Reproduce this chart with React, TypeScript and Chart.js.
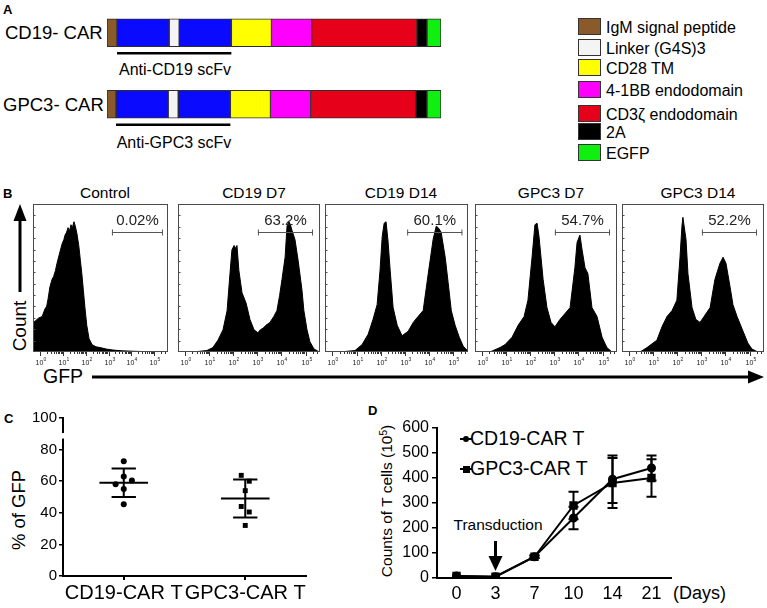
import React, { useEffect, useRef } from 'react';
import { Chart, registerables } from 'chart.js';
Chart.register(...registerables);

const FONT = '"Liberation Sans", Arial, Helvetica, sans-serif';

// ---------------- Panel A data ----------------
const constructNames = ['CD19- CAR', 'GPC3- CAR'];
const scfvLabels = ['Anti-CD19 scFv', 'Anti-GPC3 scFv'];
const segmentColors = ['#8b5a2b', '#0a0aff', '#f4f4f4', '#0a0aff', '#ffff00', '#ff00ff', '#e60019', '#000000', '#10f010'];
const cd19Segments = [10, 52, 10, 52, 40, 40, 105, 10, 14];
const gpc3Segments = [9, 52, 10, 52, 40, 40, 105, 11, 14];
const legendNames = ['IgM signal peptide', 'Linker (G4S)3', 'CD28 TM', '4-1BB endodomain', 'CD3ζ endodomain', '2A', 'EGFP'];
const legendColors = ['#8b5a2b', '#f4f4f4', '#ffff00', '#ff00ff', '#e60019', '#000000', '#10f010'];

// ---------------- Panel B data ----------------
const sampleNames = ['Control', 'CD19 D7', 'CD19 D14', 'GPC3 D7', 'GPC3 D14'];
const gfpPercentLabels = ['0.02%', '63.2%', '60.1%', '54.7%', '52.2%'];
const gateLow = [3.15, 3.02, 3.09, 3.02, 3.02];
const gateHigh = [5.38, 5.31, 5.37, 5.31, 5.31];
const decades = [0, 1, 2, 3, 4, 5];

const controlLog = [-0.3, -0.2, -0.05, 0.1, 0.22, 0.3, 0.36, 0.44, 0.53, 0.6, 0.68, 0.75, 0.85, 0.97, 1.05, 1.1, 1.17, 1.23, 1.3, 1.36, 1.42, 1.49, 1.55, 1.62, 1.7, 1.77, 1.84, 1.9, 1.97, 2.05, 2.15, 2.28, 2.45, 2.63, 2.9, 3.2, 3.6, 4.1, 4.7, 5.2, 5.6];
const controlCount = [20, 21, 23, 24, 29, 31, 36, 44, 49, 51, 55, 60, 66, 73, 76, 79, 81, 84, 82, 86, 84, 88, 85, 80, 72, 62, 52, 42, 30, 18, 9, 5, 3.5, 3, 2, 1.3, 0.8, 0.5, 0.2, 0, 0];
const cd19d7Log = [-0.3, 0.5, 0.9, 1.15, 1.36, 1.57, 1.74, 1.86, 1.94, 2.03, 2.1, 2.15, 2.23, 2.36, 2.53, 2.69, 2.86, 3.02, 3.12, 3.23, 3.35, 3.52, 3.68, 3.81, 3.92, 4.02, 4.15, 4.23, 4.31, 4.37, 4.44, 4.56, 4.69, 4.85, 4.93, 5.06, 5.18, 5.35, 5.52, 5.6];
const cd19d7Count = [0, 0.3, 1, 3, 8, 15, 28, 53, 69, 72, 70, 72, 55, 40, 33, 22, 15, 13, 15, 16, 18, 20, 24, 28, 38, 49, 64, 85, 88, 86, 82, 76, 62, 42, 28, 15, 7, 2, 0.5, 0];
const cd19d14Log = [-0.3, 0.5, 0.94, 1.23, 1.48, 1.68, 1.85, 1.97, 2.06, 2.14, 2.22, 2.3, 2.39, 2.51, 2.68, 2.88, 3.13, 3.34, 3.54, 3.75, 3.96, 4.16, 4.29, 4.37, 4.49, 4.66, 4.78, 4.91, 5.07, 5.24, 5.4, 5.57, 5.6];
const cd19d14Count = [0, 0.3, 1, 5, 12, 22, 32, 55, 78, 87, 88, 75, 55, 30, 18, 11, 14, 20, 24, 28, 53, 76, 85, 84, 81, 64, 47, 28, 18, 10, 4, 1, 0];
const gpc3d7Log = [-0.3, 0.32, 0.74, 0.95, 1.24, 1.49, 1.74, 1.9, 2.07, 2.19, 2.28, 2.36, 2.53, 2.69, 2.86, 3.02, 3.23, 3.44, 3.65, 3.85, 3.94, 4.06, 4.15, 4.27, 4.39, 4.56, 4.77, 4.98, 5.18, 5.39, 5.6];
const gpc3d7Count = [0, 0, 3, 5, 10, 18, 24, 35, 64, 86, 87, 78, 49, 30, 20, 17, 22, 26, 30, 57, 74, 79, 69, 57, 53, 30, 24, 10, 3, 0, 0];
const gpc3d14Log = [-0.3, 0.45, 0.74, 1.15, 1.36, 1.57, 1.78, 1.98, 2.11, 2.19, 2.23, 2.36, 2.44, 2.61, 2.77, 2.94, 3.11, 3.36, 3.56, 3.77, 3.9, 4.02, 4.19, 4.31, 4.48, 4.73, 4.93, 5.1, 5.35, 5.6];
const gpc3d14Count = [0, 0, 3, 8, 17, 24, 28, 35, 64, 85, 91, 76, 53, 30, 22, 20, 24, 30, 49, 60, 64, 60, 44, 32, 24, 14, 6, 2, 0, 0];

const histLogs = [controlLog, cd19d7Log, cd19d14Log, gpc3d7Log, gpc3d14Log];
const histCounts = [controlCount, cd19d7Count, cd19d14Count, gpc3d7Count, gpc3d14Count];

// ---------------- Panel C data ----------------
const groupNames = ['CD19-CAR T', 'GPC3-CAR T'];
const cd19Gfp = [72.6, 63, 60.5, 58, 55, 45.4];
const cd19Jitter = [0, 0, 0.067, -0.067, 0, 0];
const gpc3Gfp = [63.7, 60, 54, 44, 40.5, 32];
const gpc3Jitter = [-0.033, 0.033, 0, -0.033, 0.033, 0];
const groupMean = [59, 49];
const groupSd = [9, 12];

// ---------------- Panel D data ----------------
const days = ['0', '3', '7', '10', '14', '21'];
const cd19Counts = [8, 5, 85, 240, 395, 440];
const cd19CountSd = [0, 0, 5, 45, 95, 50];
const gpc3Counts = [8, 5, 85, 290, 380, 400];
const gpc3CountSd = [0, 0, 5, 55, 100, 75];
const transductionDayIndex = 1;

// ---------------- layout (not data) ----------------
const histLeft = [33, 178, 325, 475, 622];
const histWidth = [135, 142, 143, 142, 142];
const histTop = 204;
const histH = 148;
const titleX = [105, 254, 401, 551, 698];
const legendBoxY = [26, 47, 67, 89, 113, 131, 152];
const barTotal = 333;

function T(props: { x: number; y: number; s: number; a?: 'l' | 'c' | 'r'; b?: boolean; r?: boolean; c?: string; children: React.ReactNode }) {
  const { x, y, s, a = 'l', b, r, c = '#000', children } = props;
  const tx = a === 'l' ? '0' : a === 'c' ? '-50%' : '-100%';
  const transform = r ? 'translate(-50%,-50%) rotate(-90deg)' : `translate(${tx},-50%)`;
  return (
    <div style={{ position: 'absolute', left: x, top: y, fontSize: s, fontWeight: b ? 'bold' : 'normal', lineHeight: 1, whiteSpace: 'nowrap', transform, color: c, fontFamily: FONT }}>
      {children}
    </div>
  );
}

function makeHistPlugin(i: number) {
  return {
    id: 'flowFrame' + i,
    afterDraw(chart: any) {
      const { ctx, chartArea: a, scales } = chart;
      const x = scales.x;
      const y = scales.y;
      ctx.save();
      ctx.strokeStyle = '#4a4a4a';
      ctx.lineWidth = 1;
      ctx.strokeRect(a.left + 0.5, a.top + 0.5, a.right - a.left - 1, a.bottom - a.top - 1);
      for (let k = 1; k < 13; k++) {
        const yy = Math.round(a.top + (k * (a.bottom - a.top)) / 13) + 0.5;
        ctx.beginPath();
        ctx.moveTo(a.left, yy);
        ctx.lineTo(a.left + 2.5, yy);
        ctx.stroke();
      }
      ctx.strokeStyle = '#333';
      decades.forEach((n) => {
        const px = Math.round(x.getPixelForValue(n)) + 0.5;
        ctx.beginPath();
        ctx.moveTo(px, a.bottom);
        ctx.lineTo(px, a.bottom + 4);
        ctx.stroke();
        for (let m = 2; m <= 9; m++) {
          const v = n + Math.log10(m);
          if (v > x.max) break;
          const mx = Math.round(x.getPixelForValue(v)) + 0.5;
          ctx.beginPath();
          ctx.moveTo(mx, a.bottom);
          ctx.lineTo(mx, a.bottom + 2);
          ctx.stroke();
        }
        ctx.fillStyle = '#222';
        ctx.textAlign = 'center';
        ctx.textBaseline = 'middle';
        ctx.font = `7px ${FONT}`;
        ctx.fillText('10', px - 1, a.bottom + 11);
        ctx.font = `5px ${FONT}`;
        ctx.fillText(String(n), px + 4.5, a.bottom + 8);
      });
      const gy = Math.round(y.getPixelForValue(81)) + 0.5;
      const gx1 = x.getPixelForValue(gateLow[i]);
      const gx2 = x.getPixelForValue(gateHigh[i]);
      ctx.strokeStyle = '#555';
      ctx.lineWidth = 1;
      ctx.beginPath();
      ctx.moveTo(gx1, gy);
      ctx.lineTo(gx2, gy);
      ctx.moveTo(gx1 + 0.5, gy - 3);
      ctx.lineTo(gx1 + 0.5, gy + 3);
      ctx.moveTo(gx2 - 0.5, gy - 3);
      ctx.lineTo(gx2 - 0.5, gy + 3);
      ctx.stroke();
      ctx.fillStyle = '#222';
      ctx.font = `15px ${FONT}`;
      ctx.textAlign = 'center';
      ctx.textBaseline = 'middle';
      ctx.fillText(gfpPercentLabels[i], (gx1 + gx2) / 2, gy - 12);
      ctx.restore();
    },
  };
}

export default function App() {
  const aRef = useRef<HTMLCanvasElement>(null);
  const bRefs = useRef<(HTMLCanvasElement | null)[]>([]);
  const cRef = useRef<HTMLCanvasElement>(null);
  const dRef = useRef<HTMLCanvasElement>(null);

  useEffect(() => {
    const charts: Chart[] = [];

    // ---------- Panel A ----------
    const underline = {
      id: 'scfvUnderline',
      afterDatasetsDraw(chart: any) {
        const { ctx, scales } = chart;
        [cd19Segments, gpc3Segments].forEach((segs, i) => {
          const start = segs[0];
          const end = segs[0] + segs[1] + segs[2] + segs[3];
          const yy = scales.y.getPixelForValue(i) + 20.5;
          ctx.save();
          ctx.strokeStyle = '#000';
          ctx.lineWidth = 2.5;
          ctx.beginPath();
          ctx.moveTo(scales.x.getPixelForValue(start), yy);
          ctx.lineTo(scales.x.getPixelForValue(end), yy);
          ctx.stroke();
          ctx.restore();
        });
      },
    };
    charts.push(
      new Chart(aRef.current!, {
        type: 'bar',
        data: {
          labels: constructNames,
          datasets: segmentColors.map((c, i) => ({
            data: [cd19Segments[i], gpc3Segments[i]],
            backgroundColor: c,
            borderColor: '#2e2e2e',
            borderWidth: 1,
            borderSkipped: false,
            barThickness: 28,
            stack: 's',
          })),
        },
        options: {
          indexAxis: 'y',
          animation: false,
          responsive: false,
          events: [],
          layout: { padding: 0 },
          plugins: { legend: { display: false }, tooltip: { enabled: false } },
          scales: {
            x: { stacked: true, display: false, min: 0, max: barTotal },
            y: { stacked: true, display: false },
          },
        },
        plugins: [underline],
      } as any)
    );

    // ---------- Panel B ----------
    histLogs.forEach((xs, i) => {
      const cv = bRefs.current[i];
      if (!cv) return;
      charts.push(
        new Chart(cv, {
          type: 'line',
          data: {
            datasets: [
              {
                data: xs.map((v, k) => ({ x: v, y: histCounts[i][k] })),
                fill: 'origin',
                backgroundColor: '#000',
                borderColor: '#000',
                borderWidth: 1,
                pointRadius: 0,
                tension: 0,
              },
            ],
          },
          options: {
            animation: false,
            responsive: false,
            events: [],
            layout: { padding: { top: 0, left: 0, right: 0, bottom: 22 } },
            plugins: { legend: { display: false }, tooltip: { enabled: false } },
            scales: {
              x: { type: 'linear', min: -0.3, max: 5.6, display: false },
              y: { min: 0, max: 100, display: false },
            },
          },
          plugins: [makeHistPlugin(i)],
        } as any)
      );
    });

    // ---------- Panel C ----------
    const meanSd = {
      id: 'meanSd',
      afterDatasetsDraw(chart: any) {
        const { ctx, scales, chartArea: a } = chart;
        const x = scales.x;
        const y = scales.y;
        ctx.save();
        ctx.strokeStyle = '#000';
        ctx.lineWidth = 2;
        groupMean.forEach((m, g) => {
          const cx = g + 1;
          const ym = y.getPixelForValue(m);
          const yt = y.getPixelForValue(m + groupSd[g]);
          const yb = y.getPixelForValue(m - groupSd[g]);
          ctx.beginPath();
          ctx.moveTo(x.getPixelForValue(cx - 0.2), ym);
          ctx.lineTo(x.getPixelForValue(cx + 0.2), ym);
          ctx.moveTo(x.getPixelForValue(cx), yt);
          ctx.lineTo(x.getPixelForValue(cx), yb);
          ctx.moveTo(x.getPixelForValue(cx - 0.1), yt);
          ctx.lineTo(x.getPixelForValue(cx + 0.1), yt);
          ctx.moveTo(x.getPixelForValue(cx - 0.1), yb);
          ctx.lineTo(x.getPixelForValue(cx + 0.1), yb);
          ctx.stroke();
        });
        ctx.fillStyle = '#fff';
        const b1 = y.getPixelForValue(90.5);
        const b2 = y.getPixelForValue(87);
        ctx.fillRect(a.left - 3, b1, 6, b2 - b1);
        ctx.restore();
      },
    };
    charts.push(
      new Chart(cRef.current!, {
        type: 'scatter',
        data: {
          datasets: [
            {
              data: cd19Gfp.map((v, k) => ({ x: 1 + cd19Jitter[k], y: v })),
              pointStyle: 'circle',
              pointRadius: 3,
              backgroundColor: '#000',
              borderColor: '#000',
              borderWidth: 0,
            },
            {
              data: gpc3Gfp.map((v, k) => ({ x: 2 + gpc3Jitter[k], y: v })),
              pointStyle: 'rect',
              pointRadius: 3.5,
              backgroundColor: '#000',
              borderColor: '#000',
              borderWidth: 0,
            },
          ],
        },
        options: {
          animation: false,
          responsive: false,
          events: [],
          layout: { padding: { top: 18, right: 14, left: 0, bottom: 0 } },
          plugins: { legend: { display: false }, tooltip: { enabled: false } },
          scales: {
            x: {
              type: 'linear',
              min: 0.5,
              max: 2.5,
              afterFit: (s: any) => {
                s.height = 32;
              },
              afterBuildTicks: (s: any) => {
                s.ticks = [{ value: 1 }, { value: 2 }];
              },
              ticks: {
                callback: (v: any) => groupNames[Math.round(v) - 1],
                font: { family: FONT, size: 20 },
                color: '#000',
                padding: 1,
                maxRotation: 0,
                autoSkip: false,
              },
              grid: { drawOnChartArea: false, tickLength: 4, color: '#000', lineWidth: 2 },
              border: { display: true, color: '#000', width: 2 },
            },
            y: {
              min: 0,
              max: 100,
              afterFit: (s: any) => {
                s.width = 63;
              },
              ticks: { stepSize: 20, font: { family: FONT, size: 15 }, color: '#000', padding: 2 },
              grid: { drawOnChartArea: false, tickLength: 4, color: '#000', lineWidth: 1.5 },
              border: { display: true, color: '#000', width: 2 },
            },
          },
        },
        plugins: [meanSd],
      } as any)
    );

    // ---------- Panel D ----------
    const errBars = {
      id: 'errBars',
      afterDatasetsDraw(chart: any) {
        const { ctx, scales, chartArea: a } = chart;
        const x = scales.x;
        const y = scales.y;
        ctx.save();
        ctx.strokeStyle = '#000';
        ctx.lineWidth = 2;
        [
          [cd19Counts, cd19CountSd],
          [gpc3Counts, gpc3CountSd],
        ].forEach(([vals, sds]) => {
          vals.forEach((v, j) => {
            if (!sds[j]) return;
            const px = x.getPixelForValue(j);
            const yt = y.getPixelForValue(v + sds[j]);
            const yb = y.getPixelForValue(v - sds[j]);
            ctx.beginPath();
            ctx.moveTo(px, yt);
            ctx.lineTo(px, yb);
            ctx.moveTo(px - 5, yt);
            ctx.lineTo(px + 5, yt);
            ctx.moveTo(px - 5, yb);
            ctx.lineTo(px + 5, yb);
            ctx.stroke();
          });
        });
        const ax = x.getPixelForValue(transductionDayIndex);
        ctx.lineWidth = 3;
        ctx.beginPath();
        ctx.moveTo(ax, a.bottom - 37);
        ctx.lineTo(ax, a.bottom - 20);
        ctx.stroke();
        ctx.fillStyle = '#000';
        ctx.beginPath();
        ctx.moveTo(ax - 7, a.bottom - 22);
        ctx.lineTo(ax + 7, a.bottom - 22);
        ctx.lineTo(ax, a.bottom - 7);
        ctx.closePath();
        ctx.fill();
        ctx.restore();
      },
    };
    charts.push(
      new Chart(dRef.current!, {
        type: 'line',
        data: {
          labels: days,
          datasets: [
            {
              data: cd19Counts,
              borderColor: '#000',
              backgroundColor: '#000',
              borderWidth: 2,
              pointStyle: 'circle',
              pointRadius: 3.5,
              tension: 0,
            },
            {
              data: gpc3Counts,
              borderColor: '#000',
              backgroundColor: '#000',
              borderWidth: 2,
              pointStyle: 'rect',
              pointRadius: 4.5,
              tension: 0,
            },
          ],
        },
        options: {
          animation: false,
          responsive: false,
          events: [],
          layout: { padding: { top: 28, right: 9, left: 0, bottom: 0 } },
          plugins: { legend: { display: false }, tooltip: { enabled: false } },
          scales: {
            x: {
              type: 'category',
              offset: true,
              afterFit: (s: any) => {
                s.height = 30;
              },
              ticks: { font: { family: FONT, size: 18 }, color: '#000', padding: 1, maxRotation: 0, autoSkip: false },
              grid: { drawOnChartArea: false, tickLength: 4, color: 'rgba(0,0,0,0)', offset: false },
              border: { display: true, color: '#000', width: 2 },
            },
            y: {
              min: 0,
              max: 600,
              afterFit: (s: any) => {
                s.width = 57;
              },
              ticks: { stepSize: 100, font: { family: FONT, size: 16 }, color: '#000', padding: 3 },
              grid: { drawOnChartArea: false, tickLength: 5, color: '#000', lineWidth: 1.5 },
              border: { display: true, color: '#000', width: 2 },
            },
          },
        },
        plugins: [errBars],
      } as any)
    );

    return () => charts.forEach((c) => c.destroy());
  }, []);

  return (
    <div style={{ position: 'fixed', left: 0, top: 0, width: 767, height: 608, background: '#fff', overflow: 'hidden', fontFamily: FONT }}>
      <svg width={767} height={608} style={{ position: 'absolute', left: 0, top: 0 }}>
        <line x1={20} y1={216} x2={20} y2={292} stroke="#000" strokeWidth={3} />
        <polygon points="20,204 13.5,221 26.5,221" fill="#000" />
        <line x1={92} y1={377} x2={750} y2={377} stroke="#000" strokeWidth={3} />
        <polygon points="764,377 748,370.5 748,383.5" fill="#000" />
      </svg>

      {/* Panel A */}
      <T x={3} y={9} s={13} b>A</T>
      <T x={5} y={33} s={18.5}>{constructNames[0]}</T>
      <T x={3} y={104.5} s={18.5}>{constructNames[1]}</T>
      <T x={175} y={70} s={16} a="c">{scfvLabels[0]}</T>
      <T x={174} y={143} s={16} a="c">{scfvLabels[1]}</T>
      {legendNames.map((n, i) => (
        <React.Fragment key={n}>
          <div style={{ position: 'absolute', left: 578, top: legendBoxY[i] - 8, width: 21, height: 15, background: legendColors[i], border: '1px solid #333' }} />
          <T x={606} y={legendBoxY[i] + 1.5} s={16}>{n}</T>
        </React.Fragment>
      ))}
      <canvas ref={aRef} width={barTotal + 1} height={143} style={{ position: 'absolute', left: 107, top: -3, width: barTotal + 1, height: 143 }} />

      {/* Panel B */}
      <T x={3} y={193} s={13} b>B</T>
      {sampleNames.map((n, i) => (
        <T key={n} x={titleX[i]} y={193} s={15.5} a="c">{n}</T>
      ))}
      <T x={19} y={326} s={19} r>Count</T>
      <T x={43} y={377} s={19.5}>GFP</T>
      {sampleNames.map((n, i) => (
        <canvas
          key={'c' + n}
          ref={(el) => {
            bRefs.current[i] = el;
          }}
          width={histWidth[i]}
          height={histH + 22}
          style={{ position: 'absolute', left: histLeft[i], top: histTop, width: histWidth[i], height: histH + 22 }}
        />
      ))}

      {/* Panel C */}
      <T x={4} y={418} s={13} b>C</T>
      <T x={19} y={510} s={18.5} r>% of GFP</T>
      <canvas ref={cRef} width={320} height={208} style={{ position: 'absolute', left: 0, top: 400, width: 320, height: 208 }} />

      {/* Panel D */}
      <T x={368} y={410} s={13} b>D</T>
      <T x={387} y={501} s={15.5} r>
        Counts of T cells (10<span style={{ fontSize: '0.65em', position: 'relative', top: '-0.5em' }}>5</span>)
      </T>
      <T x={498} y={525} s={15.5} a="c">Transduction</T>
      <T x={673} y={593} s={18}>(Days)</T>
      <div style={{ position: 'absolute', left: 460, top: 438, width: 12, height: 2, background: '#000' }} />
      <div style={{ position: 'absolute', left: 463, top: 436, width: 6, height: 6, borderRadius: 3, background: '#000' }} />
      <T x={470} y={439} s={19.5}>{groupNames[0]}</T>
      <div style={{ position: 'absolute', left: 460, top: 468, width: 12, height: 2, background: '#000' }} />
      <div style={{ position: 'absolute', left: 462.5, top: 465.5, width: 7, height: 7, background: '#000' }} />
      <T x={470} y={469} s={19.5}>{groupNames[1]}</T>
      <canvas ref={dRef} width={300} height={208} style={{ position: 'absolute', left: 380, top: 400, width: 300, height: 208 }} />
    </div>
  );
}
